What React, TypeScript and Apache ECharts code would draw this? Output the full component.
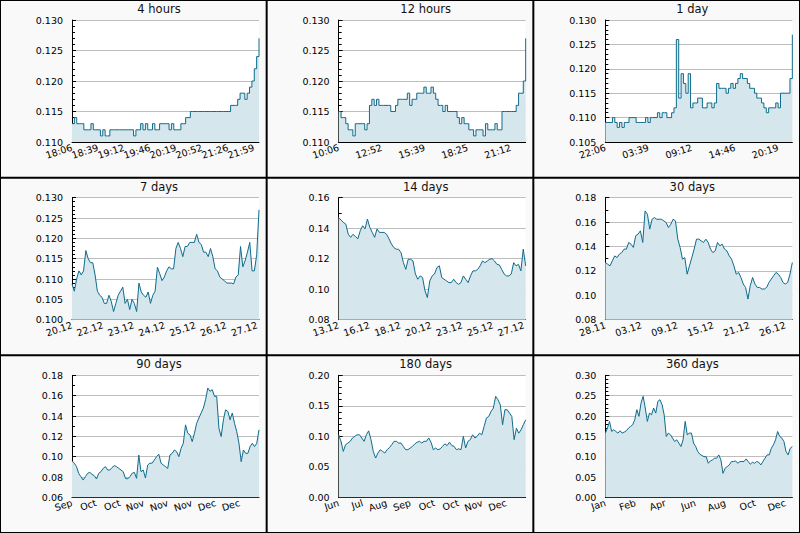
import React, { useEffect, useRef } from 'react';
import * as echarts from 'echarts';

const titles = ['4 hours', '12 hours', '1 day', '7 days', '14 days', '30 days', '90 days', '180 days', '360 days'];

const labels4h = ['18:06', '18:39', '19:12', '19:46', '20:19', '20:52', '21:26', '21:59'];
const labels12h = ['10:06', '12:52', '15:39', '18:25', '21:12'];
const labels1d = ['22:06', '03:39', '09:12', '14:46', '20:19'];
const labels7d = ['20.12', '22.12', '23.12', '24.12', '25.12', '26.12', '27.12'];
const labels14d = ['13.12', '16.12', '18.12', '20.12', '23.12', '25.12', '27.12'];
const labels30d = ['28.11', '03.12', '09.12', '15.12', '21.12', '26.12'];
const labels90d = ['Sep', 'Oct', 'Oct', 'Nov', 'Nov', 'Nov', 'Dec', 'Dec'];
const labels180d = ['Jun', 'Jul', 'Aug', 'Sep', 'Oct', 'Oct', 'Nov', 'Dec'];
const labels360d = ['Jan', 'Feb', 'Apr', 'Jun', 'Aug', 'Oct', 'Dec'];

const values4h = [
  0.113, 0.114, 0.113, 0.113, 0.113, 0.112, 0.112, 0.112, 0.113, 0.112,
  0.112, 0.112, 0.111, 0.112, 0.111, 0.111, 0.112, 0.112, 0.112, 0.112,
  0.112, 0.112, 0.112, 0.112, 0.112, 0.112, 0.111, 0.112, 0.112, 0.113,
  0.112, 0.113, 0.112, 0.112, 0.113, 0.112, 0.112, 0.113, 0.113, 0.113,
  0.113, 0.112, 0.113, 0.112, 0.112, 0.112, 0.113, 0.113, 0.114, 0.114,
  0.115, 0.115, 0.115, 0.115, 0.115, 0.115, 0.115, 0.115, 0.115, 0.115,
  0.115, 0.115, 0.115, 0.115, 0.115, 0.115, 0.115, 0.116, 0.116, 0.116,
  0.117, 0.118, 0.118, 0.117, 0.118, 0.119, 0.120, 0.122, 0.124, 0.127,
];
const values12h = [
  0.115, 0.114, 0.114, 0.113, 0.112, 0.112, 0.111, 0.113, 0.113, 0.113,
  0.113, 0.112, 0.113, 0.116, 0.117, 0.116, 0.117, 0.116, 0.116, 0.116,
  0.116, 0.116, 0.115, 0.115, 0.116, 0.117, 0.117, 0.117, 0.117, 0.118,
  0.116, 0.117, 0.117, 0.118, 0.118, 0.118, 0.119, 0.118, 0.118, 0.119,
  0.118, 0.117, 0.116, 0.116, 0.115, 0.116, 0.115, 0.115, 0.115, 0.115,
  0.114, 0.113, 0.114, 0.113, 0.113, 0.112, 0.112, 0.111, 0.112, 0.112,
  0.112, 0.111, 0.113, 0.112, 0.112, 0.112, 0.113, 0.112, 0.112, 0.115,
  0.115, 0.115, 0.115, 0.115, 0.115, 0.116, 0.118, 0.118, 0.120, 0.127,
];
const values1d = [
  0.109, 0.109, 0.109, 0.110, 0.109, 0.108, 0.109, 0.108, 0.109, 0.109,
  0.110, 0.110, 0.110, 0.109, 0.109, 0.109, 0.109, 0.110, 0.109, 0.110,
  0.110, 0.110, 0.111, 0.110, 0.111, 0.111, 0.110, 0.110, 0.111, 0.112,
  0.126, 0.114, 0.119, 0.117, 0.115, 0.119, 0.112, 0.113, 0.113, 0.114,
  0.114, 0.112, 0.112, 0.113, 0.113, 0.112, 0.113, 0.117, 0.116, 0.116,
  0.116, 0.115, 0.116, 0.117, 0.116, 0.117, 0.118, 0.119, 0.118, 0.118,
  0.117, 0.116, 0.116, 0.115, 0.114, 0.114, 0.113, 0.112, 0.111, 0.112,
  0.112, 0.112, 0.113, 0.112, 0.115, 0.115, 0.115, 0.115, 0.118, 0.127,
];
const values7d = [
  0.1088, 0.107, 0.110, 0.112, 0.111, 0.112, 0.117, 0.115, 0.114, 0.114,
  0.111, 0.107, 0.106, 0.1055, 0.104, 0.104, 0.106, 0.1045, 0.102, 0.104,
  0.106, 0.107, 0.108, 0.104, 0.105, 0.1025, 0.105, 0.104, 0.102, 0.109,
  0.1068, 0.106, 0.1055, 0.1068, 0.104, 0.106, 0.107, 0.1129, 0.1113, 0.1096,
  0.1105, 0.112, 0.113, 0.1125, 0.1125, 0.1175, 0.119, 0.1175, 0.1155, 0.118,
  0.118, 0.119, 0.119, 0.119, 0.121, 0.119, 0.1185, 0.1166, 0.1166, 0.1155,
  0.1175, 0.1155, 0.1125, 0.112, 0.1105, 0.110, 0.1096, 0.109, 0.109, 0.109,
  0.1088, 0.1105, 0.111, 0.118, 0.113, 0.1145, 0.1166, 0.119, 0.112, 0.112,
  0.116, 0.127,
];
const values14d = [
  0.147, 0.1453, 0.1437, 0.1426, 0.136, 0.134, 0.136, 0.1345, 0.133, 0.1383,
  0.1416, 0.1395, 0.146, 0.1405, 0.1372, 0.134, 0.1395, 0.1372, 0.1372, 0.1372,
  0.136, 0.133, 0.1296, 0.1273, 0.1262, 0.1262, 0.124, 0.1174, 0.113, 0.1196,
  0.1196, 0.1185, 0.110, 0.1065, 0.1087, 0.1076, 0.099, 0.0945, 0.1054, 0.1087,
  0.110, 0.1142, 0.1153, 0.1076, 0.1065, 0.1054, 0.1043, 0.1043, 0.1065, 0.1043,
  0.1032, 0.1043, 0.1087, 0.1065, 0.1043, 0.1087, 0.112, 0.112, 0.113, 0.1153,
  0.1185, 0.1174, 0.1185, 0.1196, 0.120, 0.1185, 0.1163, 0.1159, 0.113, 0.110,
  0.1087, 0.1087, 0.110, 0.1174, 0.1153, 0.1163, 0.112, 0.1262, 0.1153,
];
const values30d = [
  0.1269, 0.1255, 0.1241, 0.1282, 0.1323, 0.1309, 0.1337, 0.135, 0.1378, 0.1378,
  0.1433, 0.1419, 0.1392, 0.1488, 0.1501, 0.1528, 0.1433, 0.1691, 0.1664, 0.1542,
  0.1623, 0.1637, 0.1623, 0.1623, 0.1623, 0.161, 0.1596, 0.1555, 0.1582, 0.1623,
  0.161, 0.146, 0.1392, 0.1296, 0.1309, 0.1173, 0.1241, 0.1309, 0.1378, 0.146,
  0.146, 0.1446, 0.1433, 0.146, 0.1433, 0.1378, 0.135, 0.1364, 0.1433, 0.1405,
  0.1419, 0.1378, 0.1364, 0.1323, 0.1296, 0.1241, 0.1173, 0.1187, 0.1146, 0.1092,
  0.1064, 0.0969, 0.1078, 0.1146, 0.1092, 0.1064, 0.1064, 0.1051, 0.1051, 0.1064,
  0.1105, 0.1133, 0.116, 0.1187, 0.1173, 0.1146, 0.1105, 0.1092, 0.1105, 0.1173,
  0.1269,
];
const values90d = [
  0.0959, 0.0936, 0.0904, 0.0836, 0.0803, 0.077, 0.0803, 0.0836, 0.0846, 0.0826,
  0.0813, 0.0781, 0.0836, 0.0852, 0.0885, 0.0902, 0.0869, 0.0869, 0.0893, 0.0912,
  0.0902, 0.0885, 0.0869, 0.0852, 0.0787, 0.0781, 0.0803, 0.0836, 0.0846, 0.0787,
  0.1016, 0.0852, 0.0869, 0.079, 0.0918, 0.0936, 0.0936, 0.0968, 0.100, 0.1024,
  0.0936, 0.0918, 0.0902, 0.0885, 0.1016, 0.1033, 0.1066, 0.1049, 0.100, 0.1082,
  0.1132, 0.1313, 0.1231, 0.1214, 0.1148, 0.1231, 0.1329, 0.138, 0.1429, 0.1478,
  0.156, 0.1675, 0.1643, 0.1659, 0.1593, 0.1593, 0.128, 0.1198, 0.1362, 0.1461,
  0.1445, 0.1362, 0.1429, 0.1329, 0.1247, 0.1132, 0.0951, 0.1066, 0.1033, 0.1033,
  0.1099, 0.1132, 0.1099, 0.1132, 0.1264,
];
const values180d = [
  0.1025, 0.0918, 0.0753, 0.0863, 0.089, 0.0918, 0.0973, 0.100, 0.1025, 0.1025,
  0.0973, 0.0918, 0.1025, 0.109, 0.0945, 0.0753, 0.0644, 0.0726, 0.0781, 0.0753,
  0.0726, 0.0781, 0.0816, 0.0863, 0.0918, 0.0918, 0.089, 0.089, 0.0836, 0.0781,
  0.0781, 0.0808, 0.0836, 0.0876, 0.0904, 0.0918, 0.089, 0.0918, 0.0918, 0.0973,
  0.0904, 0.0781, 0.0808, 0.0781, 0.0795, 0.0836, 0.0876, 0.0849, 0.0904, 0.0849,
  0.0836, 0.0781, 0.0795, 0.0781, 0.100, 0.0808, 0.0918, 0.0945, 0.1025, 0.0973,
  0.100, 0.1052, 0.1025, 0.1162, 0.1299, 0.1326, 0.1408, 0.1463, 0.1655, 0.160,
  0.1518, 0.119, 0.1436, 0.1436, 0.1381, 0.1326, 0.0945, 0.1134, 0.1052, 0.1107,
  0.119, 0.1271,
];
const values360d = [
  0.1579, 0.1702, 0.1867, 0.162, 0.1661, 0.162, 0.1579, 0.1637, 0.1579, 0.1604,
  0.1637, 0.1702, 0.1743, 0.1784, 0.1908, 0.2155, 0.199, 0.2319, 0.2484, 0.2196,
  0.1867, 0.2072, 0.2031, 0.2196, 0.2072, 0.236, 0.2401, 0.2278, 0.2031, 0.1497,
  0.1579, 0.1538, 0.1456, 0.1373, 0.1414, 0.1332, 0.125, 0.1414, 0.1867, 0.1538,
  0.1579, 0.1579, 0.1332, 0.125, 0.1126, 0.1061, 0.1027, 0.100, 0.100, 0.0838,
  0.0896, 0.092, 0.0962, 0.0962, 0.1044, 0.092, 0.059, 0.0715, 0.0756, 0.0797,
  0.088, 0.088, 0.0896, 0.0838, 0.088, 0.088, 0.088, 0.0945, 0.088, 0.0814,
  0.0863, 0.0838, 0.088, 0.0863, 0.0797, 0.088, 0.0962, 0.1044, 0.1044, 0.1208,
  0.1291, 0.1414, 0.162, 0.1497, 0.1456, 0.1373, 0.1126, 0.1044, 0.1208, 0.125,
];

const allLabels = [labels4h, labels12h, labels1d, labels7d, labels14d, labels30d, labels90d, labels180d, labels360d];
const allValues = [values4h, values12h, values1d, values7d, values14d, values30d, values90d, values180d, values360d];

const yMins = [0.110, 0.110, 0.105, 0.100, 0.08, 0.08, 0.06, 0, 0];
const yMaxs = [0.130, 0.130, 0.130, 0.130, 0.16, 0.18, 0.18, 0.20, 0.30];
const yIntervals = [0.005, 0.005, 0.005, 0.005, 0.02, 0.02, 0.02, 0.05, 0.05];
const yMinorSplits = [5, 5, 5, 5, 2, 2, 2, 5, 5];
const yDecimals = [3, 3, 3, 3, 2, 2, 2, 2, 2];
const xTickSteps = [0.139, 0.23, 0.231, 0.165, 0.165, 0.1925, 0.128, 0.128, 0.1604];
const stepped = [true, true, true, false, false, false, false, false, false];

const FONT = 'DejaVu Sans';
const LINE = '#0f6b8c';
const FILL = '#d5e6ed';

export default function App() {
  const ref = useRef<HTMLDivElement>(null);
  useEffect(() => {
    if (!ref.current) return;
    const chart = echarts.init(ref.current, undefined, { renderer: 'svg' });
    const PW = 800 / 3;
    const PH = 533 / 3;
    const grids: any[] = [];
    const xAxes: any[] = [];
    const yAxes: any[] = [];
    const series: any[] = [];
    const title: any[] = [];
    const elements: any[] = [];
    for (let i = 0; i < 9; i++) {
      const c = i % 3;
      const r = Math.floor(i / 3);
      const x0 = c * PW;
      const y0 = r * PH;
      elements.push({
        type: 'rect',
        z: -100,
        shape: { x: x0 + 1, y: y0 + 1, width: PW - 2, height: PH - 2 },
        style: { fill: '#f9f9f9' },
      });
      grids.push({
        left: x0 + 72,
        top: y0 + 20,
        width: 187,
        height: 122,
        show: true,
        backgroundColor: '#ffffff',
        borderWidth: 0,
      });
      title.push({
        text: titles[i],
        left: x0 + 159,
        top: y0 + 3,
        textAlign: 'center',
        padding: 0,
        textStyle: { fontFamily: FONT, fontSize: 11.5, fontWeight: 400, color: '#111' },
      });
      const labels = allLabels[i];
      const step = xTickSteps[i];
      // Labels are split over two overlaid bottom axes (even / odd ticks) so that
      // neighbouring rotated labels are all kept, as in the reference.
      for (let part = 0; part < 2; part++) {
        const ticks = labels.map((_, k) => k * step).filter((_, k) => k % 2 === part);
        xAxes.push({
          type: 'value',
          gridIndex: i,
          position: 'bottom',
          offset: 0,
          min: 0,
          max: 1,
          axisLine: { show: part === 0, onZero: false, lineStyle: { color: '#000', width: 1 } },
          axisTick: { show: true, inside: true, length: 5, customValues: ticks, lineStyle: { color: '#000' } },
          axisLabel: {
            customValues: ticks,
            rotate: 18,
            margin: 5,
            hideOverlap: false,
            showMinLabel: true,
            showMaxLabel: true,
            fontFamily: FONT,
            fontSize: 9.5,
            color: '#000',
            formatter: (v: number) => {
              const k = Math.round(v / step);
              return labels[k] ?? '';
            },
          },
          splitLine: { show: false },
        });
      }
      const dec = yDecimals[i];
      yAxes.push({
        type: 'value',
        gridIndex: i,
        min: yMins[i],
        max: yMaxs[i],
        interval: yIntervals[i],
        axisLine: { show: true, lineStyle: { color: '#000', width: 1 } },
        axisTick: { show: true, inside: true, length: 4, lineStyle: { color: '#000' } },
        minorTick: { show: true, splitNumber: yMinorSplits[i], length: 3, lineStyle: { color: '#000' } },
        axisLabel: {
          margin: 9,
          fontFamily: FONT,
          fontSize: 9.5,
          color: '#000',
          formatter: (v: number) => v.toFixed(dec),
        },
        splitLine: { show: true, lineStyle: { color: '#bdbdbd', width: 1 } },
      });
      const vals = allValues[i];
      const n = vals.length;
      series.push({
        type: 'line',
        xAxisIndex: 2 * i,
        yAxisIndex: i,
        data: vals.map((v, k) => [k / (n - 1), v]),
        step: stepped[i] ? 'end' : false,
        showSymbol: false,
        symbol: 'none',
        lineStyle: { color: LINE, width: 1 },
        areaStyle: { color: FILL, opacity: 1 },
        z: 2,
      });
    }
    chart.setOption({
      animation: false,
      backgroundColor: '#000000',
      title,
      grid: grids,
      xAxis: xAxes,
      yAxis: yAxes,
      series,
      graphic: { elements },
    });
    return () => chart.dispose();
  }, []);
  return <div ref={ref} style={{ position: 'fixed', left: 0, top: 0, width: 800, height: 533 }} />;
}
